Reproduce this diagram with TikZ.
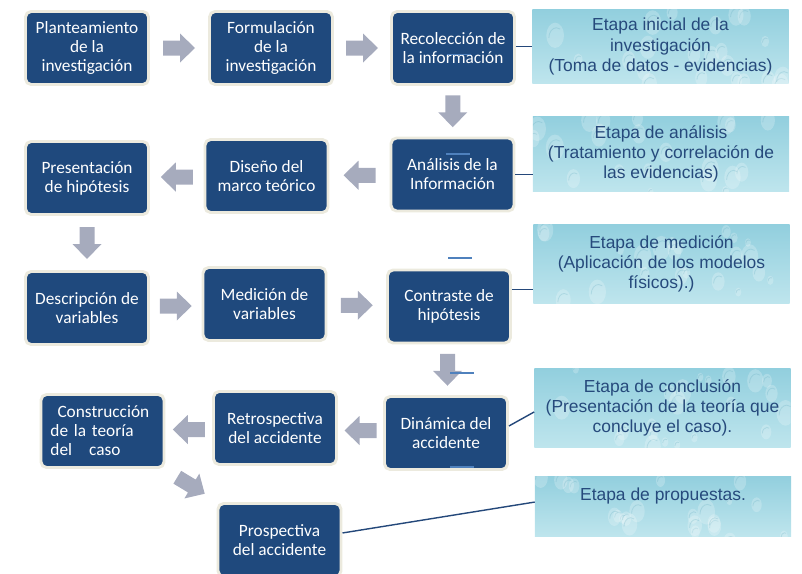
\documentclass[tikz,border=0pt]{standalone}
\usepackage{fontspec}
\setmainfont{Liberation Sans}
\newfontfamily\boxfont{Carlito}
\usetikzlibrary{calc}
\definecolor{boxblue}   {RGB}{31,  73, 125}
\definecolor{boxrim}    {RGB}{236, 234, 222}
\definecolor{arrowgray} {RGB}{166, 171, 189}
\definecolor{linkblue}  {RGB}{36,  72, 122}
\definecolor{glitchblue}{RGB}{79, 129, 189}
\definecolor{etapablue} {RGB}{38,  74, 124}
\definecolor{aquatop}   {RGB}{146, 207, 222}
\definecolor{aquabot}   {RGB}{190, 229, 237}
\definecolor{dropshade} {RGB}{96, 170, 190}

\tikzset{
	stepbox/.style={draw=boxrim, line width=2.1pt, fill=boxblue, rounded corners=4pt,
		minimum width=3.075cm, minimum height=1.825cm, inner sep=2pt, text=white,
		align=center, font=\boxfont\fontsize{12.3pt}{13.5pt}\selectfont},
	drops/.style={path picture={
		\foreach \k in {1,...,22}{
			\pgfmathsetmacro{\dx}{rnd*256}
			\pgfmathsetmacro{\dy}{rnd*78}
			\pgfmathsetmacro{\dr}{4+rnd*9}
			\coordinate (dp) at ($(path picture bounding box.north west)+(\dx,\dy)$);
			\fill[white,opacity=.22] (dp) ellipse [x radius=.7*\dr, y radius=\dr];
			\draw[dropshade,opacity=.25,line width=.6pt] ($(dp)+(-.5*\dr,.2*\dr)$) arc [start angle=180, end angle=300, x radius=.6*\dr, y radius=.8*\dr];
		}}},
	etapa/.style={top color=aquatop, bottom color=aquabot, minimum width=6.4cm, inner sep=2pt,
		text=etapablue, align=center, font=\fontsize{12.4pt}{14.4pt}\selectfont, drops},
	link/.style={linkblue, line width=1pt},
	glitch/.style={glitchblue, line width=1.4pt},
	pics/blockarr/.style={code={
		\fill[arrowgray] (-16,-7.5) -- (1,-7.5) -- (1,-14.5) -- (16,0) -- (1,14.5) -- (1,7.5) -- (-16,7.5) -- cycle;
	}}
}

\begin{document}
\begin{tikzpicture}[x=0.025cm, y=-0.025cm]
	\pgfmathsetseed{3}
	\useasboundingbox (0,0) rectangle (802,573);
	% etapas
	\node[etapa, minimum height=1.825cm] (e1) at (660.5,46.5) {Etapa inicial de la\\investigación\\(Toma de datos - evidencias)};
	\node[etapa, minimum height=1.85cm] (e2) at (661,154) {Etapa de análisis\\(Tratamiento y correlación de\\las evidencias)};
	\node[etapa, minimum height=1.95cm] (e3) at (661.5,264) {Etapa de medición\\(Aplicación de los modelos\\físicos).)};
	\node[etapa, minimum height=1.95cm] (e4) at (662.5,408) {Etapa de conclusión\\(Presentación de la teoría que\\concluye el caso).};
	\node[etapa, minimum height=1.5cm, text depth=17pt] (e5) at (663,506) {Etapa de propuestas.};
	% pasos
	\node[stepbox] (b1) at (87,48) {Planteamiento\\de la\\investigación};
	\node[stepbox] (b2) at (271,48) {Formulación\\de la\\investigación};
	\node[stepbox] (b3) at (453,48) {Recolección de\\la información};
	\node[stepbox] (b4) at (452.5,174.5) {Análisis de la\\Información};
	\node[stepbox] (b6) at (266.5,176) {Diseño del\\marco teórico};
	\node[stepbox] (b5) at (87,178) {Presentación\\de hipótesis};
	\node[stepbox] (b7) at (87,308) {Descripción de\\variables};
	\node[stepbox] (b8) at (264.5,304) {Medición de\\variables};
	\node[stepbox] (b9) at (449,306.5) {Contraste de\\hipótesis};
	\node[stepbox] (b10) at (446,433) {Dinámica del\\accidente};
	\node[stepbox] (b11) at (275,428) {Retrospectiva\\del accidente};
	\node[stepbox, align=left, text width=2.6cm] (b12) at (102.5,431) {\hspace{5pt}Construcción\\de la teoría\\del\hspace{8pt} caso};
	\node[stepbox] (b13) at (279.5,540) {Prospectiva\\del accidente};
	% flechas
	\pic at ($(b1.east)!.5!(b2.west)$) {blockarr};
	\pic at ($(b2.east)!.5!(b3.west)$) {blockarr};
	\pic[rotate=-90] at ($(b3.south)!.5!(b4.north)$) {blockarr};
	\pic[rotate=180] at ($(b4.west)!.5!(b6.east)$) {blockarr};
	\pic[rotate=180] at ($(b6.west)!.5!(b5.east)$) {blockarr};
	\pic[rotate=-90] at ($(b5.south)!.5!(b7.north)$) {blockarr};
	\pic at ($(b7.east)!.5!(b8.west)$) {blockarr};
	\pic at ($(b8.east)!.5!(b9.west)$) {blockarr};
	\pic[rotate=-90] at ($(b9.south)!.5!(b10.north)$) {blockarr};
	\pic[rotate=180] at ($(b10.west)!.5!(b11.east)$) {blockarr};
	\pic[rotate=180] at ($(b11.west)!.5!(b12.east)$) {blockarr};
	\pic[rotate=-31] at ($(b12.south east)!.5!(b13.north west)$) {blockarr};
	% enlaces
	\coordinate (c9) at ([yshift=12pt]b9.east);
	\draw[link] (b3.east |- e1.west) -- (e1.west);
	\draw[link] (b4.east) -- (b4.east -| e2.west);
	\draw[link] (c9) -- (c9 -| e3.west);
	\draw[link] ([yshift=5pt]b10.east) -- ([yshift=-2.8pt]e4.west);
	\draw[link] ([yshift=5pt]b13.east) -- ([yshift=2.8pt]e5.west);
	% trazos sueltos
	\foreach \gx/\gy in {447/54.5, 446/154, 448/258, 450/373, 450/467}
		\draw[glitch] (\gx,\gy) -- ++(24,0);
\end{tikzpicture}
\end{document}
